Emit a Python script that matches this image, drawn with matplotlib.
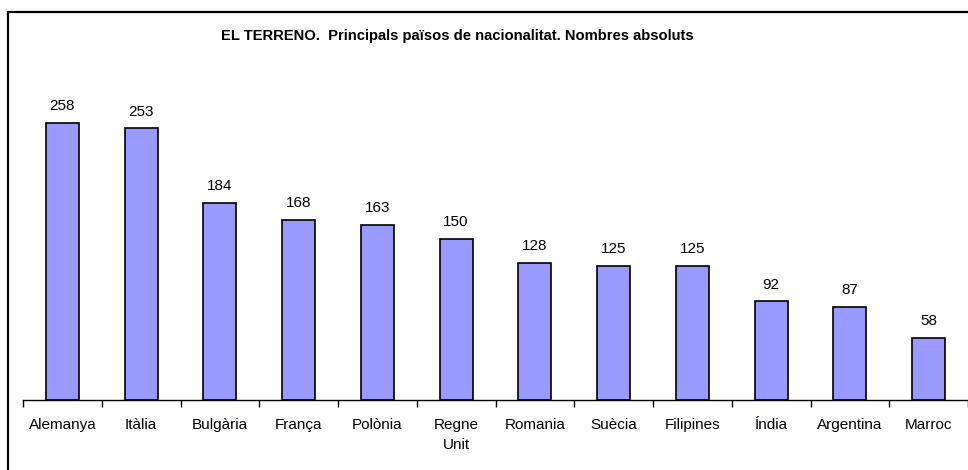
import matplotlib.pyplot as plt
from matplotlib.patches import Rectangle
import numpy as np

plt.rcParams['font.family'] = ['Liberation Sans', 'DejaVu Sans']

countries = ["Alemanya", "Itàlia", "Bulgària", "França", "Polònia", "Regne\nUnit",
             "Romania", "Suècia", "Filipines", "Índia", "Argentina", "Marroc"]
counts = [258, 253, 184, 168, 163, 150, 128, 125, 125, 92, 87, 58]
title = "EL TERRENO.  Principals països de nacionalitat. Nombres absoluts"

fig = plt.figure(figsize=(9.68, 4.70), dpi=100)

# outer frame (only left and top edges fall inside the canvas)
fig.patches.append(Rectangle((8 / 968, -0.1), 1.2, 1.1 - 12 / 470, transform=fig.transFigure,
                             fill=False, edgecolor="black", linewidth=1.6))

ax = fig.add_axes([23 / 968, 70 / 470, 945 / 968, 322 / 470])
x = np.arange(len(countries))
ax.bar(x, counts, width=0.42, color="#9999FF", edgecolor="black", linewidth=1.2)

for xi, v in zip(x, counts):
    ax.annotate(str(v), (xi, v), xytext=(0, 7), textcoords="offset points",
                ha="center", va="bottom", fontsize=11)

ax.set_xlim(-0.5, len(countries) - 0.5)
ax.set_ylim(0, 300)
ax.set_yticks([])
for side in ("left", "right", "top"):
    ax.spines[side].set_visible(False)
ax.spines["bottom"].set_linewidth(1.0)

ax.set_xticks(x)
ax.set_xticklabels(countries, fontsize=11, linespacing=1.5)
ax.tick_params(axis="x", which="major", length=0, pad=13)
ax.set_xticks(np.arange(-0.5, len(countries)), minor=True)
ax.tick_params(axis="x", which="minor", length=5, width=1.0, direction="out")

fig.text(457 / 968, 1 - 36 / 470, title, ha="center", va="center",
         fontsize=10.6, fontweight="bold")

fig.savefig("out.png", dpi=100)
